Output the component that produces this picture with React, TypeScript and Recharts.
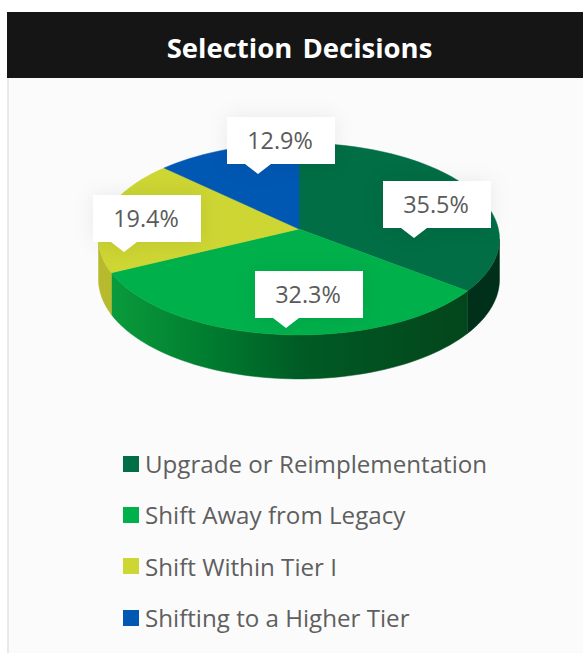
import { Legend, Pie, PieChart } from "recharts";

const categories = ["Upgrade or Reimplementation", "Shift Away from Legacy", "Shift Within Tier I", "Shifting to a Higher Tier"];
const counts = [11, 10, 6, 4];
const topColors = ["#026e45", "#00b04b", "#cdd633", "#0058b3"];
const wallFills = ["#00301a", "url(#wallGreen)", "#b6ba2c", "#003a7a"];
// where each callout's pointer lands, relative to the pie centre
const calloutTips = [[115, 9], [-13, 99], [-175, 23], [-41, -55]];

const total = counts.reduce((a, b) => a + b, 0);
const pieData = categories.map((name, i) => ({ name, value: counts[i], fill: topColors[i] }));

const PERSPECTIVE = 0.104;
const SQUASH = 0.476;

// clockwise degrees from 12 o'clock -> tilted disc on screen
function project(deg: number, cx: number, cy: number, r: number) {
  const a = (deg * Math.PI) / 180;
  const u = Math.sin(a);
  const v = -Math.cos(a);
  const d = 1 - PERSPECTIVE * v;
  return { x: cx + (r * u) / d, y: cy + (r * SQUASH * v) / d, v };
}

function arcPoints(from: number, to: number, cx: number, cy: number, r: number) {
  const pts = [];
  const steps = Math.max(2, Math.ceil((to - from) / 2));
  for (let i = 0; i <= steps; i++) pts.push(project(from + ((to - from) * i) / steps, cx, cy, r));
  return pts;
}

function SliceShape(props: any) {
  const { cx, cy, outerRadius, startAngle, endAngle, fill, name } = props;
  const idx = categories.indexOf(name);
  const from = 90 - startAngle;
  const to = 90 - endAngle;
  const top = arcPoints(from, to, cx, cy, outerRadius);
  const topPath = `M${cx},${cy} ` + top.map((p) => `L${p.x},${p.y}`).join(" ") + " Z";

  // side wall only where it faces the viewer
  const wallFrom = Math.max(from, 96);
  const wallTo = Math.min(to, 264);
  let wallPath = "";
  if (wallTo > wallFrom) {
    const rim = arcPoints(wallFrom, wallTo, cx, cy, outerRadius);
    const lower = [...rim].reverse().map((p) => ({ x: p.x, y: p.y + 40 + 4 * p.v }));
    wallPath = "M" + [...rim, ...lower].map((p) => `${p.x},${p.y}`).join(" L") + " Z";
  }
  return (
    <g>
      {wallPath && <path d={wallPath} fill={wallFills[idx]} stroke={wallFills[idx]} strokeWidth={0.5} />}
      <path d={topPath} fill={fill} stroke={fill} strokeWidth={0.5} />
    </g>
  );
}

function Callout(props: any) {
  const { cx, cy, index, value } = props;
  const [dx, dy] = calloutTips[index];
  const tx = cx + dx;
  const ty = cy + dy;
  const left = tx - 31;
  const right = left + 108;
  const bottom = ty - 10;
  const upper = bottom - 47;
  const d = `M${left},${upper} H${right} V${bottom} H${tx + 13} L${tx},${ty} L${tx - 13},${bottom} H${left} Z`;
  return (
    <g>
      <path d={d} fill="#fff" style={{ filter: "drop-shadow(0 0 10px rgba(0,0,0,0.07))" }} />
      <text x={left + 53} y={upper + 32} textAnchor="middle" fontFamily="'Open Sans'" fontSize={23.4} fill="#5a5a5a">
        {((value / total) * 100).toFixed(1)}%
      </text>
    </g>
  );
}

function LegendList({ payload }: any) {
  return (
    <div>
      {(payload || []).map((item: any) => (
        <div key={item.value} style={{ display: "flex", alignItems: "center", height: 51.3 }}>
          <span style={{ width: 16, height: 16, background: item.color, marginRight: 6, flexShrink: 0 }} />
          <span style={{ fontFamily: "'Open Sans'", fontSize: 24.15, color: "#5f5f5f", whiteSpace: "nowrap" }}>{item.value}</span>
        </div>
      ))}
    </div>
  );
}

export default function App() {
  return (
    <div style={{ position: "absolute", left: 0, top: 0, width: 583, height: 653, background: "#fff", overflow: "hidden" }}>
      <div style={{ position: "absolute", left: 7, top: 78, width: 576, height: 575, background: "#fbfbfb", borderLeft: "2px solid #e9e9e9", boxSizing: "border-box" }} />
      <div
        style={{
          position: "absolute", left: 7, top: 12, width: 576, height: 66, background: "#151515", color: "#fff", boxSizing: "border-box", paddingLeft: 9,
          fontFamily: "'Open Sans'", fontWeight: 700, fontSize: 27.5, lineHeight: "71px", textAlign: "center", wordSpacing: 3,
        }}
      >
        Selection Decisions
      </div>
      <div style={{ position: "absolute", left: 0, top: 0 }}>
        <PieChart width={583} height={653} margin={{ top: 0, right: 0, bottom: 0, left: 0 }}>
          <defs>
            <linearGradient id="wallGreen" gradientUnits="userSpaceOnUse" x1={111} y1={0} x2={462} y2={0}>
              <stop offset="0%" stopColor="#0a9b3c" />
              <stop offset="28%" stopColor="#007c2f" />
              <stop offset="55%" stopColor="#005a24" />
              <stop offset="100%" stopColor="#03461b" />
            </linearGradient>
          </defs>
          <Pie
            data={pieData}
            dataKey="value"
            nameKey="name"
            cx={299}
            cy={229}
            outerRadius={199.4}
            startAngle={90}
            endAngle={-270}
            stroke="none"
            shape={SliceShape}
            label={Callout}
            labelLine={false}
            isAnimationActive={false}
          />
          <Legend content={<LegendList />} itemSorter={null} wrapperStyle={{ left: 123, top: 438, width: 440, bottom: "auto" }} />
        </PieChart>
      </div>
    </div>
  );
}
